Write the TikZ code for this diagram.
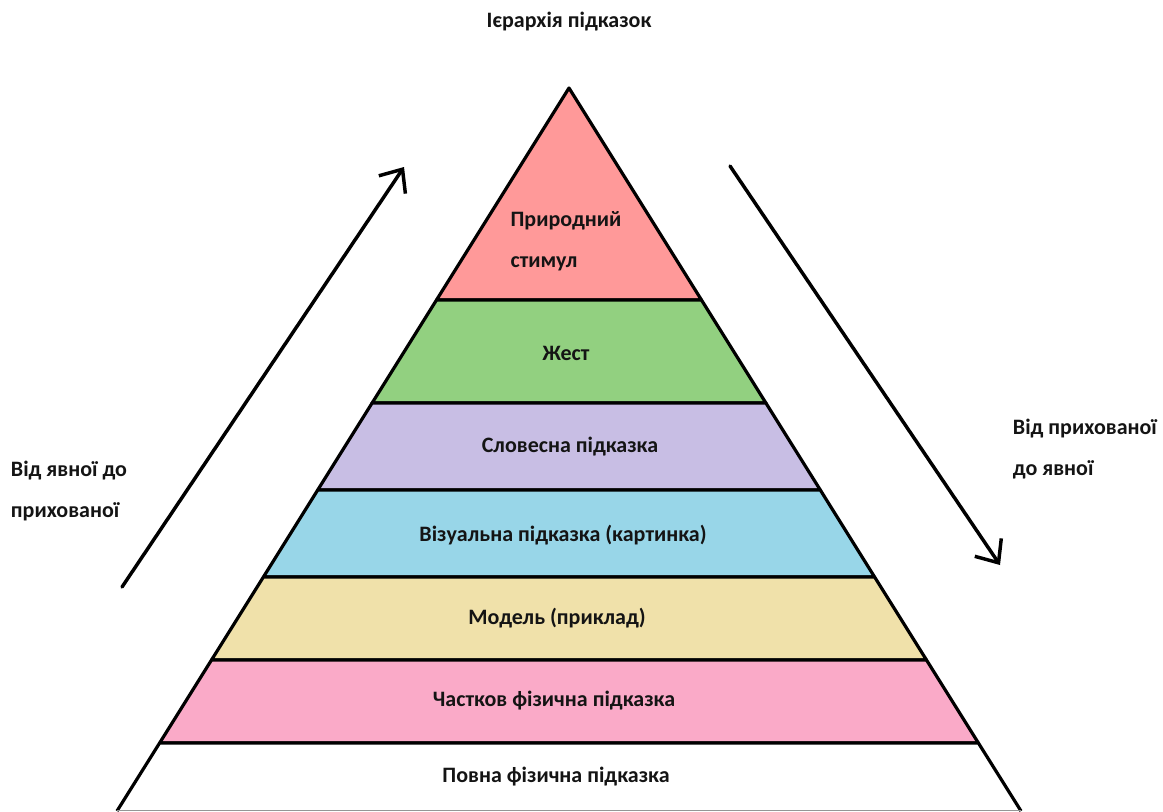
\documentclass[tikz,border=0pt]{standalone}
\usepackage{fontspec}
\setmainfont{Carlito}
\usetikzlibrary{arrows.meta}

\tikzset{every picture/.style={line width=0.75pt}}
\tikzset{
	layer/.style={draw={rgb, 255:red, 0; green, 0; blue, 0 }, line width=2.4pt, line join=round},
	label text/.style={font=\fontsize{16.5}{31}\selectfont\bfseries, text={rgb, 255:red, 20; green, 20; blue, 20 }},
	trend/.style={line width=2.6pt, line cap=round, -{Straight Barb[length=14pt,width=24pt,line width=2.6pt]}}}

\begin{document}
\begin{tikzpicture}[x=0.75pt,y=0.75pt,yscale=-1,xscale=1]
	\useasboundingbox (0,0) rectangle (1163,811);

	%Shape: Triangle [id:top] 
	\draw  [layer][fill={rgb, 255:red, 255; green, 153; blue, 153 }  ,fill opacity=1 ] (569,88) -- (701.5,300) -- (436.5,300) -- cycle ;
	%Shape: Trapezoid [id:gesture] 
	\draw  [layer][fill={rgb, 255:red, 146; green, 208; blue, 128 }  ,fill opacity=1 ] (436.5,300) -- (701.5,300) -- (765.9,403) -- (372.1,403) -- cycle ;
	%Shape: Trapezoid [id:verbal] 
	\draw  [layer][fill={rgb, 255:red, 200; green, 190; blue, 228 }  ,fill opacity=1 ] (372.1,403) -- (765.9,403) -- (820.3,490) -- (317.7,490) -- cycle ;
	%Shape: Trapezoid [id:visual] 
	\draw  [layer][fill={rgb, 255:red, 152; green, 214; blue, 232 }  ,fill opacity=1 ] (317.7,490) -- (820.3,490) -- (874.6,577) -- (263.4,577) -- cycle ;
	%Shape: Trapezoid [id:model] 
	\draw  [layer][fill={rgb, 255:red, 240; green, 225; blue, 170 }  ,fill opacity=1 ] (263.4,577) -- (874.6,577) -- (926.5,660) -- (211.5,660) -- cycle ;
	%Shape: Trapezoid [id:partial] 
	\draw  [layer][fill={rgb, 255:red, 250; green, 170; blue, 200 }  ,fill opacity=1 ] (211.5,660) -- (926.5,660) -- (978.4,743) -- (159.6,743) -- cycle ;
	%Shape: Trapezoid [id:full] 
	\fill  [white] (159.6,743) -- (978.4,743) -- (1021,811) -- (117,811) -- cycle ;
	\draw  [layer] (117,811) -- (159.6,743) -- (978.4,743) -- (1021,811) ;
	\draw  [color={rgb, 255:red, 150; green, 150; blue, 150 }  ,line width=1pt] (117,810.5) -- (1021,810.5) ;

	% Arrow ends
	\coordinate (upstart) at (122,587);
	\coordinate (upend) at (404,167);
	\coordinate (downstart) at (730,166);
	\coordinate (downend) at (1000,565);
	%Straight Lines [id:up] 
	\draw [trend] (upstart) -- (upend) ;
	%Straight Lines [id:down] 
	\draw [trend] (downstart) -- (downend) ;

	% Text Node
	\draw (569,22) node (title) [label text]  {Ієрархія підказок};
	% Text Node
	\draw (566,241) node (natural) [label text, align=left]  {Природний\\стимул};
	% Text Node
	\draw (566,353) node (gesturetext) [label text]  {Жест};
	% Text Node
	\draw (570,447) node (verbaltext) [label text]  {Словесна підказка};
	% Text Node
	\draw (563,535) node (visualtext) [label text]  {Візуальна підказка (картинка)};
	% Text Node
	\draw (557,618) node (modeltext) [label text]  {Модель (приклад)};
	% Text Node
	\draw (554,701) node (partialtext) [label text]  {Частков фізична підказка};
	% Text Node
	\draw (556,777) node (fulltext) [label text]  {Повна фізична підказка};
	% Text Node
	\draw (6,491) node (lefttext) [label text, align=left, anchor=west]  {Від явної до\\прихованої};
	% Text Node
	\draw (1008,449) node (righttext) [label text, align=left, anchor=west]  {Від прихованої\\до явної};

\end{tikzpicture}
\end{document}
